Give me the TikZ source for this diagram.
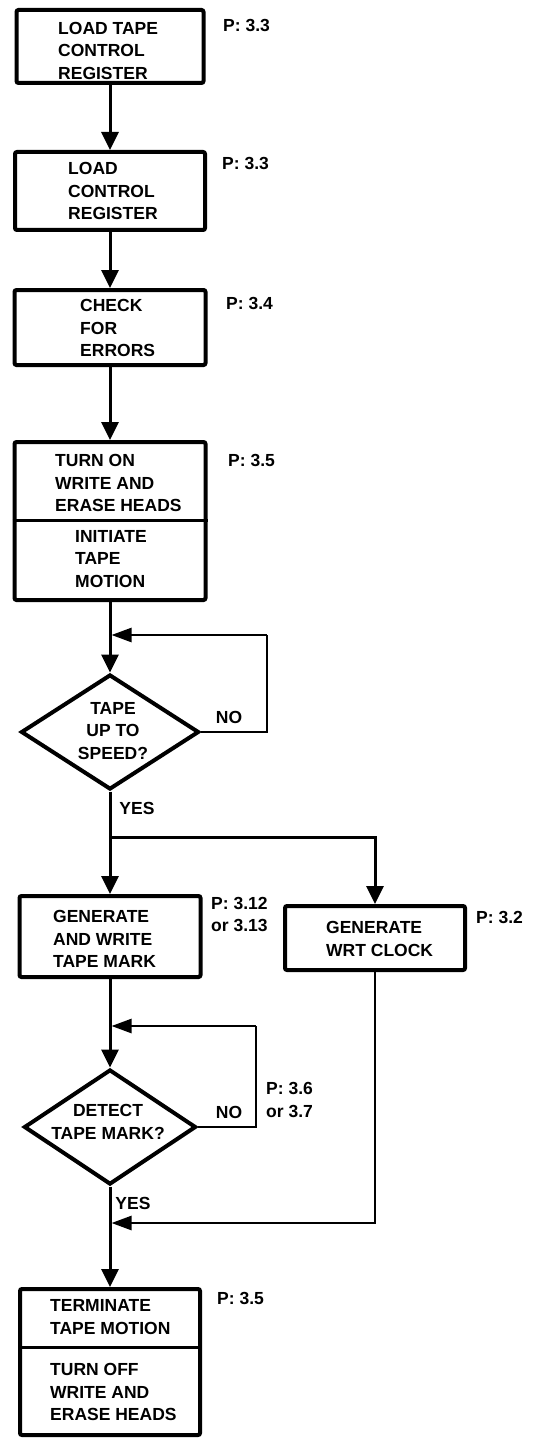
\documentclass[tikz,border=0pt]{standalone}
\usepackage{fontspec}
\setmainfont{Liberation Sans}
\usetikzlibrary{arrows.meta,shapes.geometric}
\begin{document}
\begin{tikzpicture}[x=1pt,y=-1pt,
  box/.style={draw,line width=4pt,rounded corners=2pt,inner sep=0pt},
  dia/.style={draw,diamond,line width=4pt,inner sep=0pt},
  txt/.style={font=\bfseries\fontsize{17.5}{22.5}\selectfont,inner sep=0pt,align=left,anchor=west},
  ctxt/.style={font=\bfseries\fontsize{17.5}{22.5}\selectfont,inner sep=0pt,align=center},
  conn/.style={line width=3pt,-{Triangle[length=18pt,width=17pt]}},
  back/.style={line width=2.5pt,-{Triangle[length=20pt,width=14pt]}},
  plain/.style={line width=2.5pt},
  divider/.style={line width=3pt}
]
\useasboundingbox (0,0) rectangle (548,1439);
\fill[white] (0,0) rectangle (548,1439);

% boxes
\node[box,minimum width=187pt,minimum height=73pt] (b1) at (110,46.5) {};
\node[box,minimum width=190pt,minimum height=78pt] (b2) at (110,191) {};
\node[box,minimum width=191pt,minimum height=75pt] (b3) at (110,327.5) {};
\node[box,minimum width=191pt,minimum height=158pt] (b4) at (110,521) {};
\draw[divider] (b4.west |- 0,520) -- (b4.east |- 0,520);
\node[dia,minimum width=178pt,minimum height=115pt] (d1) at (110,732) {};
\node[box,minimum width=181pt,minimum height=81pt] (b5) at (110,936.5) {};
\node[box,minimum width=180pt,minimum height=64pt] (b6) at (375,938) {};
\node[dia,minimum width=172pt,minimum height=115pt] (d2) at (110,1127) {};
\node[box,minimum width=180pt,minimum height=146pt] (b7) at (110,1362) {};
\draw[divider] (b7.west |- 0,1347) -- (b7.east |- 0,1347);

% texts
\node[txt] (t1) at (58,50.5) {LOAD TAPE\\CONTROL\\REGISTER};
\node[txt] (t2) at (68,191) {LOAD\\CONTROL\\REGISTER};
\node[txt] (t3) at (80,328) {CHECK\\FOR\\ERRORS};
\node[txt] (t4a) at (55,483) {TURN ON\\WRITE AND\\ERASE HEADS};
\node[txt] (t4b) at (75,559) {INITIATE\\TAPE\\MOTION};
\node[ctxt] (td1) at (113,731) {TAPE\\UP TO\\SPEED?};
\node[txt] (t5) at (53,939) {GENERATE\\AND WRITE\\TAPE MARK};
\node[txt] (t6) at (326,939) {GENERATE\\WRT CLOCK};
\node[ctxt] (td2) at (108,1122) {DETECT\\TAPE MARK?};
\node[txt] (t7a) at (50,1317) {TERMINATE\\TAPE MOTION};
\node[txt] (t7b) at (50,1392) {TURN OFF\\WRITE AND\\ERASE HEADS};

% page references
\node[txt] (p1) at (223,25) {P: 3.3};
\node[txt] (p2) at (222,163) {P: 3.3};
\node[txt] (p3) at (226,303) {P: 3.4};
\node[txt] (p4) at (228,460) {P: 3.5};
\node[txt] (p5) at (211,914.5) {P: 3.12\\or 3.13};
\node[txt] (p6) at (476,917) {P: 3.2};
\node[txt] (p7) at (266,1100) {P: 3.6\\or 3.7};
\node[txt] (p8) at (217,1298) {P: 3.5};

% yes / no labels
\node[ctxt] (no1) at (229,717) {NO};
\node[ctxt] (yes1) at (137,808) {YES};
\node[ctxt] (no2) at (229,1112) {NO};
\node[ctxt] (yes2) at (133,1203) {YES};

% junction coordinates
\coordinate (j1) at (111.5,635);
\coordinate (r1) at (267,635);
\coordinate (j2) at (110,837);
\coordinate (j3) at (111.5,1026);
\coordinate (r3) at (256,1026);
\coordinate (j4) at (111.5,1223);

% connectors
\draw[conn] (b1.south) -- (b2.north);
\draw[conn] (b2.south) -- (b3.north);
\draw[conn] (b3.south) -- (b4.north);
\draw[conn] (b4.south) -- (d1.north);
\draw[plain] (d1.east) -| (r1);
\draw[back] (r1) -- (j1);
\draw[conn] (d1.south) -- (b5.north);
\draw[conn] (j2) -| (b6.north);
\draw[conn] (b5.south) -- (d2.north);
\draw[plain] (d2.east) -| (r3);
\draw[back] (r3) -- (j3);
\draw[conn] (d2.south) -- (b7.north);
\draw[back] (b6.south) |- (j4);
\end{tikzpicture}
\end{document}
